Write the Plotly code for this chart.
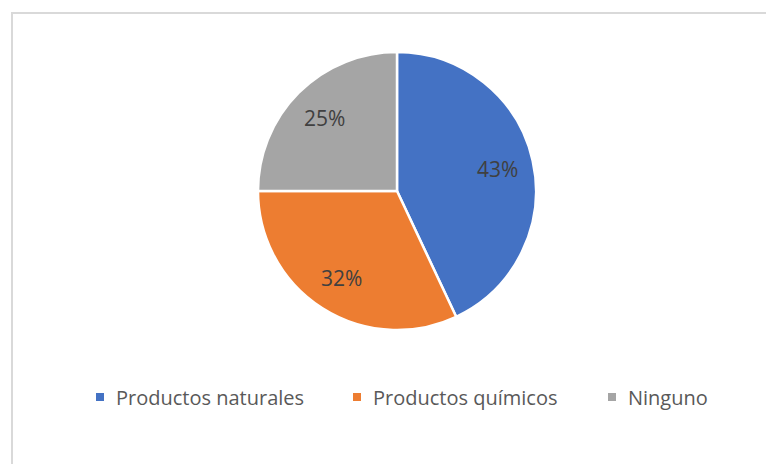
import math
import plotly.graph_objects as go

labels = ["Productos naturales", "Productos químicos", "Ninguno"]
values = [43, 32, 25]
colors = ["#4472C4", "#ED7D31", "#A5A5A5"]

W, H = 766, 464
# pie placement (px)
cx, cy, R = 397, 191, 139
dom_x = [(cx - R) / W, (cx + R) / W]
dom_y = [(H - (cy + R)) / H, (H - (cy - R)) / H]

fig = go.Figure(go.Pie(
    labels=labels, values=values, sort=False, direction="clockwise", rotation=0,
    marker=dict(colors=colors, line=dict(color="white", width=2.5)),
    textinfo="none",
    domain=dict(x=dom_x, y=dom_y),
    hoverinfo="label+percent",
    showlegend=False,
))

# data labels placed along each slice's mid angle
total = sum(values)
ann = []
acc = 0
for v in values:
    mid = (acc + v / 2) / total * 2 * math.pi
    acc += v
    r = 0.74 * R
    px = cx + r * math.sin(mid)
    py = cy - r * math.cos(mid)
    ann.append(dict(x=px / W, y=(H - py) / H, xref="paper", yref="paper",
                    text=f"{round(v / total * 100)}%", showarrow=False,
                    xanchor="center", yanchor="middle",
                    font=dict(size=21, color="#404040", family="Open Sans")))

# legend (layout: marker left edges in px, row center y)
legend_left = [96, 353, 608]
legend_y = 397
shapes = [dict(type="rect", xref="paper", yref="paper", x0=12 / W, x1=1.05, y0=-0.05, y1=(H - 13) / H,
               line=dict(color="#D9D9D9", width=2), fillcolor="rgba(0,0,0,0)", layer="below")]
for name, col, lx in zip(labels, colors, legend_left):
    shapes.append(dict(type="rect", xref="paper", yref="paper",
                       x0=lx / W, x1=(lx + 8) / W, y0=(H - legend_y - 4) / H, y1=(H - legend_y + 4) / H,
                       line=dict(width=0), fillcolor=col))
    ann.append(dict(x=(lx + 18) / W, y=(H - legend_y - 0.5) / H, xref="paper", yref="paper",
                    text=name, showarrow=False, xanchor="left", yanchor="middle",
                    font=dict(size=20, color="#595959", family="Open Sans")))

fig.update_layout(
    width=W, height=H, margin=dict(l=0, r=0, t=0, b=0),
    paper_bgcolor="white", plot_bgcolor="white",
    showlegend=False,
    annotations=ann,
    shapes=shapes,
    font=dict(family="Open Sans"),
)
fig.write_html("out.html", post_script="document.body.style.margin='0';",
               config={"displayModeBar": False})
